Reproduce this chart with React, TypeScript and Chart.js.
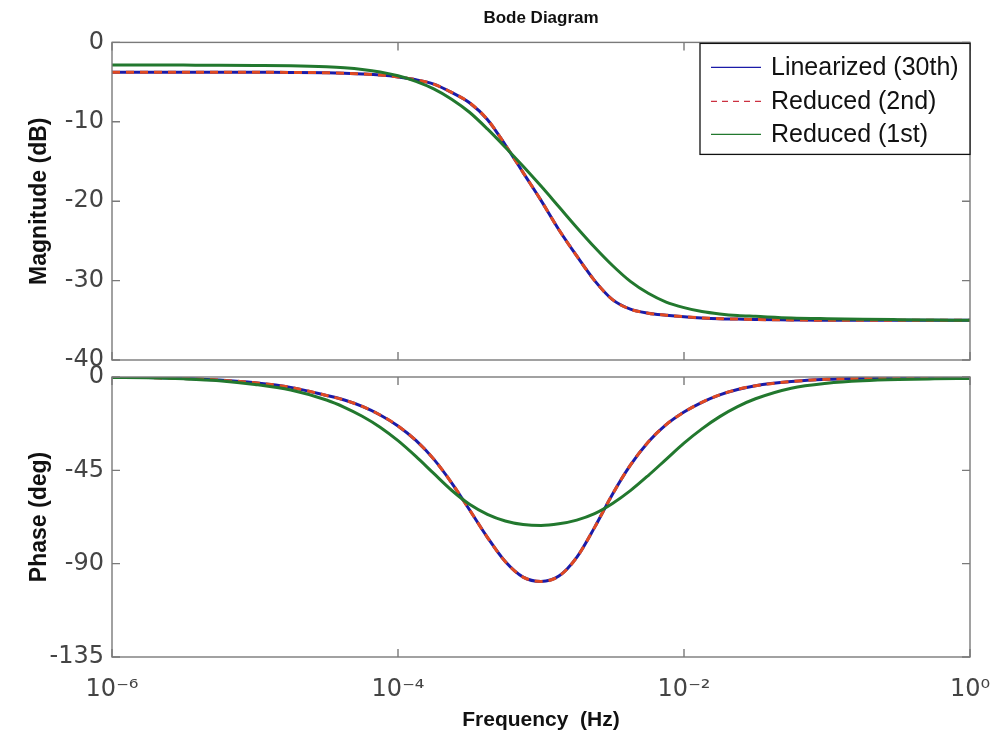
import React, { useEffect, useRef } from 'react';
import { Chart, registerables } from 'chart.js';

Chart.register(...registerables);

const FONT = '"Liberation Sans", Arial, Helvetica, sans-serif';
const TICK_FONT = '"DejaVu Sans", "Liberation Sans", Arial, sans-serif';

// Frequencies (Hz), 10^-6 ... 10^0
const FREQ_HZ = [
  1e-6, 1.778e-6, 3.162e-6, 5.623e-6, 1e-5, 1.778e-5, 3.162e-5, 4.217e-5, 5.623e-5, 7.499e-5,
  1e-4, 1.334e-4, 1.778e-4, 2.371e-4, 3.162e-4, 4.217e-4, 5.623e-4, 7.499e-4,
  1e-3, 1.334e-3, 1.778e-3, 2.371e-3, 3.162e-3, 4.217e-3, 5.623e-3, 7.499e-3,
  1e-2, 1.334e-2, 1.778e-2, 2.371e-2, 3.162e-2, 5.623e-2, 0.1, 0.1778, 0.3162, 0.5623, 1,
];

// Magnitude (dB)
const LINEARIZED_MAG = [
  -3.75, -3.75, -3.75, -3.76, -3.77, -3.78, -3.82, -3.88, -3.98, -4.12,
  -4.35, -4.7, -5.25, -6.3, -7.6, -9.7, -12.9, -16.4,
  -19.9, -23.6, -26.9, -30.0, -32.4, -33.6, -34.1, -34.35,
  -34.55, -34.7, -34.8, -34.85, -34.9, -34.95, -35.0, -35.0, -35.0, -35.0, -35.0,
];
const REDUCED2_MAG = [
  -3.75, -3.75, -3.75, -3.76, -3.77, -3.78, -3.82, -3.88, -3.98, -4.12,
  -4.35, -4.7, -5.25, -6.3, -7.6, -9.7, -12.9, -16.4,
  -19.9, -23.6, -26.9, -30.0, -32.4, -33.6, -34.1, -34.35,
  -34.55, -34.7, -34.8, -34.85, -34.9, -34.95, -35.0, -35.0, -35.0, -35.0, -35.0,
];
const REDUCED1_MAG = [
  -2.85, -2.85, -2.86, -2.87, -2.9, -2.95, -3.08, -3.2, -3.4, -3.72,
  -4.2, -4.9, -5.85, -7.15, -8.8, -10.9, -13.2, -15.6,
  -18.1, -20.7, -23.3, -25.8, -28.1, -30.1, -31.6, -32.7,
  -33.4, -33.9, -34.2, -34.4, -34.5, -34.7, -34.8, -34.87, -34.92, -34.96, -35.0,
];

// Phase (deg)
const LINEARIZED_PHASE = [
  -0.1, -0.3, -0.7, -1.5, -2.8, -5.0, -8.9, -11.1, -14.2, -18.3,
  -23.6, -30.6, -39.6, -51.0, -64.0, -77.3, -89.0, -96.5,
  -98.6, -96.0, -87.0, -72.5, -56.5, -42.5, -31.3, -23.0,
  -16.9, -12.2, -8.6, -6.0, -4.2, -2.2, -1.1, -0.6, -0.3, -0.15, -0.1,
];
const REDUCED2_PHASE = [
  -0.1, -0.3, -0.7, -1.5, -2.8, -5.0, -8.9, -11.1, -14.2, -18.3,
  -23.6, -30.6, -39.6, -51.0, -64.0, -77.3, -89.0, -96.5,
  -98.6, -96.0, -87.0, -72.5, -56.5, -42.5, -31.3, -23.0,
  -16.9, -12.2, -8.6, -6.0, -4.2, -2.2, -1.1, -0.6, -0.3, -0.15, -0.1,
];
const REDUCED1_PHASE = [
  -0.2, -0.4, -0.9, -1.8, -3.6, -6.3, -11.1, -14.6, -18.9, -24.2,
  -30.7, -38.3, -46.5, -54.6, -61.4, -66.2, -69.4, -71.1,
  -71.6, -70.8, -69.0, -65.9, -61.0, -54.8, -47.5, -39.7,
  -31.9, -25.0, -19.1, -14.3, -10.5, -5.4, -3.0, -1.8, -1.2, -0.9, -0.7,
];

const SERIES_LABELS = ['Linearized (30th)', 'Reduced (2nd)', 'Reduced (1st)'];
const SERIES_COLORS = ['#1b1ba8', '#e04a22', '#22782e'];
const SERIES_DASH = [[], [8, 6], []];
const SERIES_ORDER = [2, 1, 0];

const MAG_TICKS = [0, -10, -20, -30, -40];
const PHASE_TICKS = [0, -45, -90, -135];
const FREQ_TICKS = [1e-6, 1e-4, 1e-2, 1];
const FREQ_TICK_LABELS = ['10\u207B\u2076', '10\u207B\u2074', '10\u207B\u00B2', '10\u2070'];

const framePlugin = {
  id: 'bodeFrame',
  afterDatasetsDraw(chart: any) {
    const { ctx, chartArea: a, scales } = chart;
    ctx.save();
    ctx.strokeStyle = '#7a7a7a';
    ctx.lineWidth = 1.4;
    ctx.strokeRect(a.left, a.top, a.right - a.left, a.bottom - a.top);
    const L = 8;
    ctx.beginPath();
    for (const v of FREQ_TICKS) {
      const x = scales.x.getPixelForValue(v);
      ctx.moveTo(x, a.top);
      ctx.lineTo(x, a.top + L);
      ctx.moveTo(x, a.bottom);
      ctx.lineTo(x, a.bottom - L);
    }
    for (const t of scales.y.ticks) {
      const y = scales.y.getPixelForValue(t.value);
      ctx.moveTo(a.left, y);
      ctx.lineTo(a.left + L, y);
      ctx.moveTo(a.right, y);
      ctx.lineTo(a.right - L, y);
    }
    ctx.stroke();
    ctx.restore();
  },
};

const legendPlugin = {
  id: 'bodeLegend',
  afterDraw(chart: any) {
    const opts = chart.options.plugins.bodeLegend;
    if (!opts || !opts.show) return;
    const { ctx, chartArea: a } = chart;
    const w = 270;
    const h = 111;
    const left = a.right - w;
    const top = a.top + 1;
    ctx.save();
    ctx.fillStyle = '#ffffff';
    ctx.fillRect(left, top, w, h);
    ctx.strokeStyle = '#111';
    ctx.lineWidth = 1.3;
    ctx.strokeRect(left, top, w, h);
    ctx.font = `25px ${FONT}`;
    ctx.textBaseline = 'middle';
    ctx.textAlign = 'left';
    const rows = [24, 58, 91];
    chart.data.datasets.forEach((ds: any, i: number) => {
      const y = top + rows[i];
      ctx.beginPath();
      ctx.setLineDash(i === 1 ? [6, 5] : []);
      ctx.strokeStyle = i === 1 ? '#cc3040' : ds.borderColor;
      ctx.lineWidth = 1.3;
      ctx.moveTo(left + 11, y);
      ctx.lineTo(left + 61, y);
      ctx.stroke();
      ctx.setLineDash([]);
      ctx.fillStyle = '#111';
      ctx.fillText(ds.label, left + 71, y + 1);
    });
    ctx.restore();
  },
};

type PanelProps = {
  values: number[][];
  yTicks: number[];
  yMin: number;
  yMax: number;
  yTitle: string;
  top: number;
  height: number;
  paddingTop: number;
  paddingBottom: number;
  showTitle: boolean;
  showLegend: boolean;
  showX: boolean;
};

function BodePanel(p: PanelProps) {
  const ref = useRef<HTMLCanvasElement | null>(null);
  useEffect(() => {
    if (!ref.current) return;
    const datasets = p.values.map((vals, i) => ({
      label: SERIES_LABELS[i],
      data: FREQ_HZ.map((x, j) => ({ x, y: vals[j] })),
      borderColor: SERIES_COLORS[i],
      backgroundColor: SERIES_COLORS[i],
      borderWidth: 3,
      borderDash: SERIES_DASH[i],
      pointRadius: 0,
      cubicInterpolationMode: 'monotone',
      fill: false,
      order: SERIES_ORDER[i],
    }));
    const chart = new Chart(ref.current, {
      type: 'line',
      data: { datasets } as any,
      plugins: [framePlugin, legendPlugin],
      options: {
        animation: false,
        responsive: false,
        parsing: false,
        normalized: true,
        layout: { padding: { top: p.paddingTop, right: 22, bottom: p.paddingBottom, left: 0 } },
        plugins: {
          legend: { display: false },
          tooltip: { enabled: false },
          title: {
            display: p.showTitle,
            text: 'Bode Diagram',
            fullSize: false,
            color: '#111',
            font: { family: FONT, size: 17, weight: 'bold' },
            padding: { top: 8, bottom: 14 },
          },
          bodeLegend: { show: p.showLegend },
        } as any,
        scales: {
          x: {
            type: 'logarithmic',
            min: 1e-6,
            max: 1,
            display: p.showX,
            afterBuildTicks: (s: any) => {
              s.ticks = FREQ_TICKS.map((v) => ({ value: v }));
            },
            grid: { display: false, drawTicks: false },
            border: { display: false },
            ticks: {
              autoSkip: false,
              maxRotation: 0,
              padding: 18,
              color: '#444',
              font: { family: TICK_FONT, size: 24 },
              callback: (_v: any, i: number) => FREQ_TICK_LABELS[i],
            },
            title: {
              display: true,
              text: 'Frequency  (Hz)',
              color: '#111',
              font: { family: FONT, size: 21, weight: 'bold' },
              padding: { top: 0, bottom: 14 },
            },
            afterFit: (s: any) => {
              s.height = p.showX ? 90 : 0;
              s.paddingLeft = 0;
              s.paddingRight = 0;
            },
          },
          y: {
            type: 'linear',
            min: p.yMin,
            max: p.yMax,
            afterBuildTicks: (s: any) => {
              s.ticks = p.yTicks.map((v) => ({ value: v }));
            },
            grid: { display: false, drawTicks: false },
            border: { display: false },
            ticks: {
              padding: 8,
              color: '#444',
              font: { family: TICK_FONT, size: 24 },
              callback: (v: any) => String(v),
            },
            title: {
              display: true,
              text: p.yTitle,
              color: '#111',
              font: { family: FONT, size: 23, weight: 'bold' },
              padding: { top: 26, bottom: 0 },
            },
            afterFit: (s: any) => {
              s.width = 112;
              s.paddingTop = 0;
              s.paddingBottom = 0;
            },
          },
        },
      } as any,
    });
    return () => chart.destroy();
  }, []);
  return (
    <div style={{ position: 'absolute', left: 0, top: p.top, width: 992, height: p.height }}>
      <canvas ref={ref} width={992} height={p.height} style={{ display: 'block', width: 992, height: p.height }} />
    </div>
  );
}

export default function App() {
  return (
    <div style={{ position: 'fixed', left: 0, top: 0, width: 992, height: 747, background: '#fff', overflow: 'hidden' }}>
      <BodePanel
        values={[LINEARIZED_MAG, REDUCED2_MAG, REDUCED1_MAG]}
        yTicks={MAG_TICKS}
        yMin={-40}
        yMax={0}
        yTitle="Magnitude (dB)"
        top={0}
        height={375}
        paddingTop={0}
        paddingBottom={15}
        showTitle={true}
        showLegend={true}
        showX={false}
      />
      <BodePanel
        values={[LINEARIZED_PHASE, REDUCED2_PHASE, REDUCED1_PHASE]}
        yTicks={PHASE_TICKS}
        yMin={-135}
        yMax={0}
        yTitle="Phase (deg)"
        top={360}
        height={387}
        paddingTop={17}
        paddingBottom={0}
        showTitle={false}
        showLegend={false}
        showX={true}
      />
    </div>
  );
}
